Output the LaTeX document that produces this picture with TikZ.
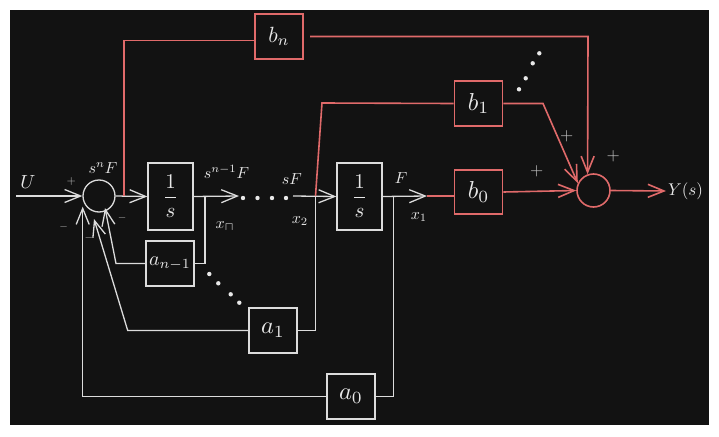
\documentclass[tikz,border=0pt]{standalone}
\usepackage{graphicx}
\usetikzlibrary{arrows.meta,calc}
\definecolor{bg}{HTML}{121212}
\definecolor{wl}{HTML}{DCDCDC}
\definecolor{rl}{HTML}{E06A6A}
\definecolor{gl}{HTML}{C0C0C0}
\definecolor{txt}{HTML}{E8E8E8}
\newcommand{\bx}[1]{\scalebox{2.45}{$#1$}}
\newcommand{\lb}[2]{\scalebox{#1}{$#2$}}
\begin{document}
\begin{tikzpicture}[x=1pt,y=-1pt,
  wline/.style={draw=wl,line width=1.3pt},
  rline/.style={draw=rl,line width=1.6pt},
  arr/.style={-{Straight Barb[length=16pt,width=13pt]}},
  wbox/.style={wline,rectangle,inner sep=0pt,minimum width=48pt,minimum height=45pt,text=txt},
  rbox/.style={rline,rectangle,inner sep=0pt,minimum width=48pt,minimum height=45pt,text=txt},
  ibox/.style={wline,rectangle,inner sep=0pt,minimum width=45pt,minimum height=67pt,text=txt},
  lab/.style={text=txt,inner sep=0pt},
  sgn/.style={text=gl,inner sep=0pt},
  dot/.style={fill=txt}
]
\useasboundingbox (0,0) rectangle (719,436);
\fill[white] (0,0) rectangle (719,436);
\fill[bg] (10,10) rectangle (709,425);

% nodes
\node[circle,wline,minimum size=32pt,inner sep=0pt] (s1) at (99,196) {};
\node[ibox] (i1) at (170.5,196.5) {\lb{2.1}{\displaystyle\frac{1}{s}}};
\node[ibox] (i2) at (359.5,196.5) {\lb{2.1}{\displaystyle\frac{1}{s}}};
\node[rbox] (bn) at (279,36.5) {\lb{2.2}{b_n}};
\node[rbox] (b1) at (478.5,103.5) {\bx{b_1}};
\node[rbox,minimum height=44pt] (b0) at (478.5,192) {\bx{b_0}};
\node[circle,rline,minimum size=33pt,inner sep=0pt] (s2) at (593.5,190.5) {};
\node[wbox] (an) at (170,263.5) {\lb{2.0}{a_{n-1}}};
\node[wbox] (a1) at (273,330.5) {\bx{a_1}};
\node[wbox] (a0) at (351,396.5) {\bx{a_0}};

% coordinates
\coordinate (uin) at (16,196);
\coordinate (bnA) at (124,196);
\coordinate (bnB) at (124,40.5);
\coordinate (bnR) at (310,36.5);
\coordinate (bnC) at (588,36.5);
\coordinate (d1) at (239,196);
\coordinate (d2) at (293,196);
\coordinate (xn) at (205,196);
\coordinate (xnB) at (205,263.5);
\coordinate (x2) at (315.5,196);
\coordinate (x2B) at (315.5,330.5);
\coordinate (b1A) at (322,103);
\coordinate (b1B) at (543,103.5);
\coordinate (fpt) at (427,196);
\coordinate (x1) at (393.5,196);
\coordinate (x1B) at (393.5,396.5);
\coordinate (anL) at (116,263.5);
\coordinate (a1L) at (127.7,330.5);
\coordinate (a0L) at (82.7,396.5);
\coordinate (yout) at (666,191);

% main forward path
\draw[wline,arr] (uin) -- (s1.west);
\draw[wline,arr] (s1.east) -- (i1.west);
\draw[wline,arr] (i1.east) -- (d1);
\foreach \xx in {243,257.5,272,286} \fill[dot] (\xx,198) circle (2.2);
\draw[wline,arr] (d2) -- (i2.west);
\draw[wline,arr] (i2.east) -- (fpt);

% feedback
\draw[wline] (xn) -- (xnB) -- (an.east);
\draw[wline,arr] (an.west) -- (anL) -- ($(s1)+(6,12)$);
\draw[wline] (x2) -- (x2B) -- (a1.east);
\draw[wline,arr] (a1.west) -- (a1L) -- ($(s1)+(-5,23)$);
\draw[wline] (x1) -- (x1B) -- (a0.east);
\draw[wline,arr] (a0.west) -- (a0L) -- ($(s1)+(-16.3,10.7)$);
\foreach \p in {(209.3,274),(218.3,283.3),(230.7,294.3),(239.3,302.7)} \fill[dot] \p circle (2.2);

% output path (red)
\draw[rline] (bnA) -- (bnB) -- (bnB -| bn.west);
\draw[rline,arr] (bnR) -- (bnC) -- (s2.110);
\draw[rline] (x2) -- (b1A) -- (b1.west);
\draw[rline,arr] (b1.east) -- (b1B) -- (s2.155);
\draw[rline] (fpt) -- (fpt -| b0.west);
\draw[rline,arr] (b0.east) -- (s2.west);
\draw[rline,arr] (s2.east) -- (yout);
\foreach \p in {(539.3,53.3),(532.7,63.3),(525.7,78.3),(519,89.3)} \fill[dot] \p circle (2.2);

% labels
\node[lab] (lu) at (28,182.5) {\lb{1.9}{U}};
\node[sgn] (pl1) at (71.3,181) {\lb{1.2}{+}};
\node[lab] (lsn) at (103,168) {\lb{1.6}{s^n F}};
\node[lab] (lsn1) at (226.5,171.5) {\lb{1.6}{s^{n-1}F}};
\node[lab] (lsf) at (292,179) {\lb{1.6}{sF}};
\node[lab] (lf) at (401,178) {\lb{1.6}{F}};
\node[lab] (lxn) at (225,226) {\lb{1.6}{x_{\sqcap}}};
\node[lab] (lx2) at (300,221) {\lb{1.6}{x_2}};
\node[lab] (lx1) at (419,217) {\lb{1.6}{x_1}};
\node[sgn] (m1) at (63.7,226.7) {\lb{1.1}{-}};
\node[sgn] (m2) at (88.8,237.5) {\lb{1.1}{-}};
\node[sgn] (m3) at (122.2,217.7) {\lb{1.1}{-}};
\node[sgn] (p1) at (566.7,136) {\lb{1.7}{+}};
\node[sgn] (p2) at (613.3,156.7) {\lb{1.7}{+}};
\node[sgn] (p3) at (536.7,171) {\lb{1.7}{+}};
\node[lab,anchor=west] (ly) at (668,191.5) {\lb{1.7}{Y(s)}};
\end{tikzpicture}
\end{document}
